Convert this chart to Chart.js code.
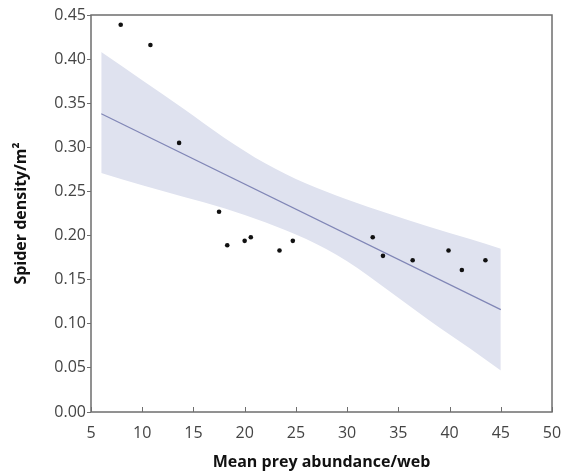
<!DOCTYPE html>
<html>
<head>
<meta charset="utf-8">
<script src="https://cdn.jsdelivr.net/npm/chart.js@4.4.1/dist/chart.umd.min.js"></script>
<style>
  html, body { margin: 0; padding: 0; background: #fff; }
  #wrap { position: relative; width: 569px; height: 472px; }
</style>
</head>
<body>
<div id="wrap"><canvas id="c"></canvas></div>
<script>
// observed points
const preyX   = [7.9, 10.8, 13.6, 17.5, 18.3, 20.0, 20.6, 23.4, 24.7, 32.5, 33.5, 36.4, 39.9, 41.2, 43.5];
const spiderY = [0.439, 0.416, 0.305, 0.227, 0.189, 0.194, 0.198, 0.183, 0.194, 0.198, 0.177, 0.172, 0.183, 0.161, 0.172];

// fit line and confidence band
const fitX   = [6, 45];
const fitY   = [0.338, 0.116];
const bandX  = [6, 10, 14, 18, 22, 26, 30, 34, 38, 42, 45];
const bandHi = [0.408, 0.376, 0.344, 0.311, 0.282, 0.259, 0.241, 0.225, 0.210, 0.196, 0.185];
const bandLo = [0.271, 0.257, 0.244, 0.231, 0.215, 0.196, 0.171, 0.138, 0.104, 0.072, 0.047];

const xTicks = [5, 10, 15, 20, 25, 30, 35, 40, 45, 50];
const yTicks = [0, 0.05, 0.10, 0.15, 0.20, 0.25, 0.30, 0.35, 0.40, 0.45];

const FONT = "'Open Sans', sans-serif";
const AXIS = '#6e6e6e';

const pts = (xs, ys) => xs.map((x, i) => ({ x: x, y: ys[i] }));

// frame round the plot + inward ticks on the x axis
const framePlugin = {
  id: 'frame',
  afterDraw(chart) {
    const { ctx, chartArea: a, scales } = chart;
    ctx.save();
    ctx.strokeStyle = AXIS;
    ctx.lineWidth = 1.5;
    ctx.strokeRect(a.left, a.top, a.right - a.left, a.bottom - a.top);
    ctx.lineWidth = 1;
    ctx.beginPath();
    xTicks.forEach(v => {
      const px = Math.round(scales.x.getPixelForValue(v)) + 0.5;
      ctx.moveTo(px, a.bottom);
      ctx.lineTo(px, a.bottom - 5);
    });
    ctx.stroke();
    ctx.restore();
  }
};

new Chart(document.getElementById('c').getContext('2d'), {
  type: 'scatter',
  data: {
    datasets: [
      {
        label: 'upper',
        data: pts(bandX, bandHi),
        showLine: true,
        borderWidth: 0,
        borderColor: 'rgba(0,0,0,0)',
        backgroundColor: 'rgb(223,226,239)',
        pointRadius: 0,
        cubicInterpolationMode: 'monotone',
        fill: '+1',
        order: 3
      },
      {
        label: 'lower',
        data: pts(bandX, bandLo),
        showLine: true,
        borderWidth: 0,
        borderColor: 'rgba(0,0,0,0)',
        pointRadius: 0,
        cubicInterpolationMode: 'monotone',
        fill: false,
        order: 3
      },
      {
        label: 'fit',
        data: pts(fitX, fitY),
        showLine: true,
        borderColor: 'rgb(128,134,182)',
        borderWidth: 1.2,
        pointRadius: 0,
        fill: false,
        order: 2
      },
      {
        label: 'points',
        data: pts(preyX, spiderY),
        pointRadius: 2.3,
        pointBackgroundColor: '#111',
        pointBorderWidth: 0,
        order: 1
      }
    ]
  },
  options: {
    responsive: true,
    maintainAspectRatio: false,
    animation: false,
    layout: { padding: { top: 15, right: 17, left: 0, bottom: 0 } },
    plugins: { legend: { display: false }, tooltip: { enabled: false } },
    scales: {
      x: {
        type: 'linear',
        min: 5,
        max: 50,
        afterBuildTicks: s => { s.ticks = xTicks.map(v => ({ value: v })); },
        afterFit: s => { s.height = 60; },
        grid: { display: false },
        border: { display: false },
        ticks: {
          color: '#444',
          font: { size: 16, family: FONT },
          padding: 4,
          maxRotation: 0,
          callback: v => String(v)
        },
        title: {
          display: true,
          text: 'Mean prey abundance/web',
          color: '#111',
          font: { size: 16, weight: 'bold', family: FONT },
          padding: { top: 0, bottom: 0 }
        }
      },
      y: {
        min: 0,
        max: 0.45,
        afterBuildTicks: s => { s.ticks = yTicks.map(v => ({ value: v })); },
        afterFit: s => { s.width = 91; },
        grid: {
          display: true,
          drawOnChartArea: false,
          drawTicks: true,
          tickLength: 4,
          color: AXIS
        },
        border: { display: false },
        ticks: {
          color: '#444',
          font: { size: 16, family: FONT },
          padding: 1,
          callback: v => v.toFixed(2)
        },
        title: {
          display: true,
          text: 'Spider density/m²',
          color: '#111',
          font: { size: 16, weight: 'bold', family: FONT },
          padding: { top: 12, bottom: 0 }
        }
      }
    }
  },
  plugins: [framePlugin]
});
</script>
</body>
</html>
